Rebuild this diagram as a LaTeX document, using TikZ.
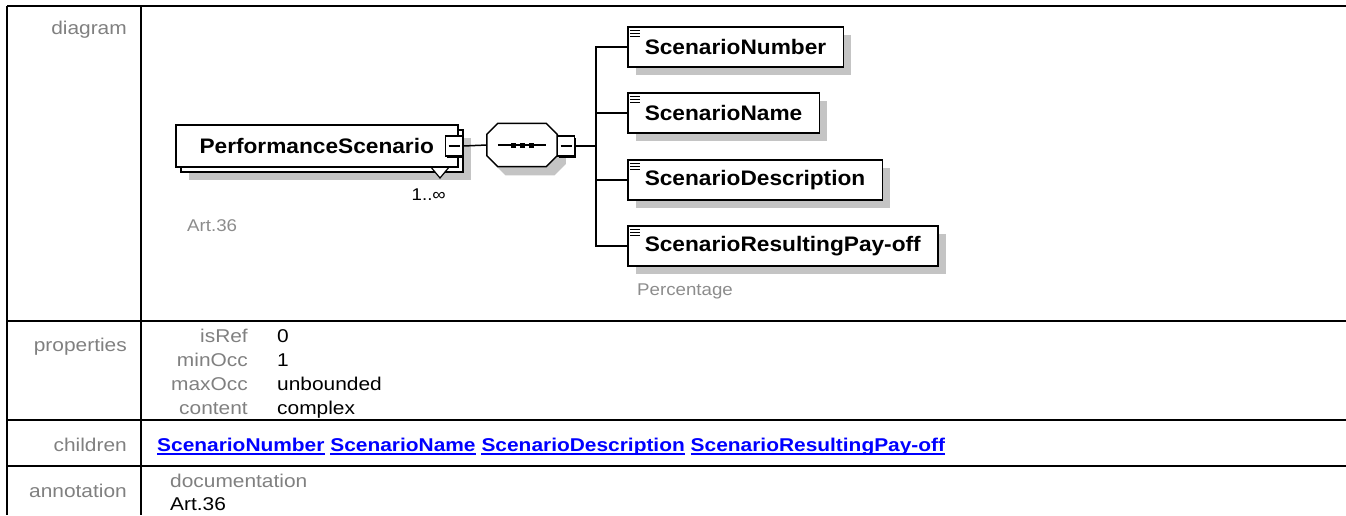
\documentclass[tikz,border=0pt]{standalone}
\usepackage{fontspec}
\setmainfont{Liberation Sans}
\newfontfamily\tabfont[FakeStretch=1.13]{Liberation Sans}
\newfontfamily\boxfont[FakeStretch=1.08]{Liberation Sans}
\newfontfamily\notefont[FakeStretch=1.1]{Liberation Sans}
\usetikzlibrary{positioning, shadows}
\definecolor{labelgray}{HTML}{808080}
\definecolor{notegray}{HTML}{8C8C8C}
\definecolor{shadowgray}{HTML}{C4C4C4}
\definecolor{linkblue}{HTML}{0000FF}

\begin{document}
\begin{tikzpicture}[x=1pt, y=-1pt,
      grid/.style  = {line width=2.5pt},
      lbl/.style   = {anchor=base east, inner sep=0, text=labelgray,
                      font=\tabfont\fontsize{18.5}{22}\selectfont},
      val/.style   = {anchor=base west, inner sep=0,
                      font=\tabfont\fontsize{18.5}{22}\selectfont},
      link/.style  = {val, text=linkblue,
                      font=\tabfont\bfseries\fontsize{18.5}{22}\selectfont},
      elem/.style  = {draw, line width=1.5pt, fill=white, anchor=west,
                      minimum height=40pt, inner xsep=17pt,
                      font=\boxfont\bfseries\fontsize{21}{25}\selectfont},
      shade/.style = {drop shadow={shadow xshift=8pt, shadow yshift=-8pt,
                      fill=shadowgray, opacity=1}},
      box/.style   = {elem, shade},
      btn/.style   = {draw, line width=1.5pt, fill=white, inner sep=0,
                      minimum width=17pt, minimum height=20pt,
                      drop shadow={shadow xshift=1.5pt, shadow yshift=-1.5pt,
                      fill=black, opacity=1},
                      path picture={\draw[line width=1.3pt]
                        ([xshift=3pt]path picture bounding box.west) --
                        ([xshift=-3pt]path picture bounding box.east);}},
      seqbox/.style = {inner sep=0, minimum width=70pt, minimum height=43pt},
      conn/.style  = {line width=1.5pt},
      note/.style  = {inner sep=0, text=notegray,
                      font=\notefont\fontsize{17}{20}\selectfont}
    ]
    \useasboundingbox (0,0) rectangle (1346,515);

    % table
    \draw[grid] (7,6) -- (1346,6);
    \draw[grid] (7,6) -- (7,515);
    \draw[grid] (141,6) -- (141,515);
    \foreach \y in {321,420,466}
      \draw[grid] (7,\y) -- (1346,\y);

    \node[lbl] (ldiag)  at (127,34)  {diagram};
    \node[lbl] (lprop)  at (127,351) {properties};
    \node[lbl] (lchild) at (127,451) {children};
    \node[lbl] (lanno)  at (127,497) {annotation};

    \foreach \y/\k/\v in {342/isRef/0, 366/minOcc/1,
                          390/maxOcc/unbounded, 414/content/complex} {
      \node[lbl] (k-\k) at (248,\y) {\k};
      \node[val] (v-\k) at (277,\y) {\v};
    }

    \node[link] (l-num)  at (157,451) {ScenarioNumber};
    \node[link] (l-name) at ([xshift=5.5pt]l-num.base east)  {ScenarioName};
    \node[link] (l-desc) at ([xshift=5.5pt]l-name.base east) {ScenarioDescription};
    \node[link] (l-pay)  at ([xshift=5.5pt]l-desc.base east) {ScenarioResultingPay-off};
    \foreach \c in {num,name,desc,pay}
      \draw[linkblue, line width=1.4pt]
        ([yshift=-3pt]l-\c.base west) -- ([yshift=-3pt]l-\c.base east);

    \node[lbl, anchor=base west] (kdoc) at (170,487) {documentation};
    \node[val] (vdoc) at (170,510) {Art.36};

    % diagram
    \node[elem, shade, minimum width=282pt, minimum height=42pt]
      (psback) at (180,151) {};
    \draw[line width=1.2pt, fill=white] (430,166) -- (450,166) -- (440,178) -- cycle;
    \node[elem, minimum width=282pt, minimum height=42pt] (ps) at (175,146)
      {PerformanceScenario};
    \node[btn] (psbtn) at (454,146) {};
    \node[note, anchor=base east, text=black] (mult) at (446,200) {1..∞};
    \node[note, anchor=base west] (psdoc) at (187,231) {Art.36};

    \node[seqbox] (seq) at (522,145) {};
    \foreach \s/\f/\d in {8pt/shadowgray/shadowgray, 0pt/white/black}
      \filldraw[line width=1.5pt, fill=\f, draw=\d,
                transform canvas={xshift=\s, yshift=-\s}]
        ([xshift=11pt]seq.north west) -- ([xshift=-11pt]seq.north east)
        -- ([yshift=-11pt]seq.north east) -- ([yshift=11pt]seq.south east)
        -- ([xshift=-11pt]seq.south east) -- ([xshift=11pt]seq.south west)
        -- ([yshift=11pt]seq.south west) -- ([yshift=-11pt]seq.north west)
        -- cycle;
    \draw[conn] ([xshift=11pt]seq.west) -- ([xshift=-11pt]seq.east);
    \foreach \dx in {-9,0,9}
      \fill ([xshift=\dx pt]seq.center) ++(-2.5,-2.5) rectangle ++(5,5);
    \node[btn] (seqbtn) at (566,146) {};

    \node[box] (num)  at (627,47)  {ScenarioNumber};
    \node[box] (name) at (627,113) {ScenarioName};
    \node[box] (desc) at (627,180) {ScenarioDescription};
    \node[box] (pay)  at (627,246) {ScenarioResultingPay-off};
    \node[note, anchor=base west] (paytype) at (637,295) {Percentage};

    \foreach \c in {num,name,desc,pay}
      \foreach \k in {0,3,6}
        \draw[line width=1pt] ([xshift=3pt, yshift=-(4+\k)*1pt]\c.north west) -- ++(10,0);

    \coordinate (trunk) at (596,146);
    \draw[conn] (psbtn.east) -- (seq.west);
    \draw[conn] (seqbtn.east) -- (trunk);
    \foreach \c in {num,name,desc,pay}
      \draw[conn] (trunk) |- (\c.west);
  \end{tikzpicture}
\end{document}
